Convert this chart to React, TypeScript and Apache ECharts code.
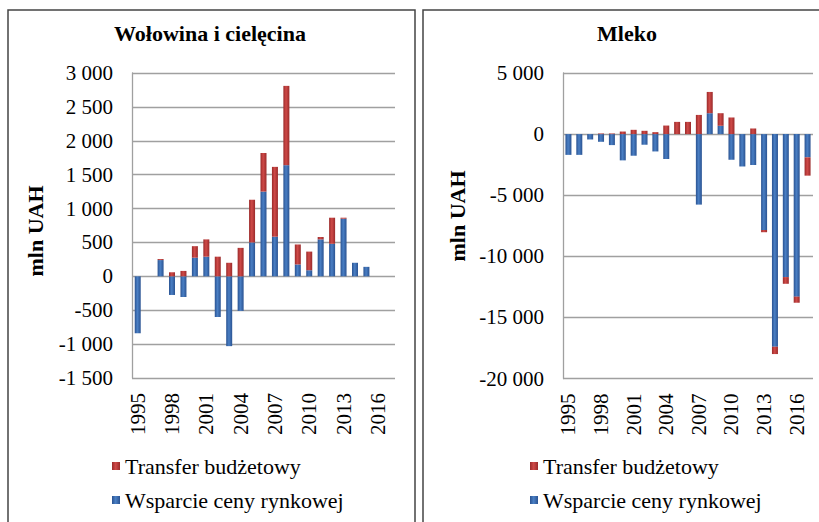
import React, { useEffect, useRef } from "react";
import * as echarts from "echarts";

const years = ["1995","1996","1997","1998","1999","2000","2001","2002","2003","2004","2005","2006","2007","2008","2009","2010","2011","2012","2013","2014","2015","2016","2017"];

const beefMarket = [-840, null, 240, -275, -305, 275, 290, -600, -1030, -510, 500, 1250, 585, 1640, 175, 90, 545, 480, 850, 200, 140, null, null];
const beefBudget = [0, null, 15, 60, 80, 170, 255, 290, 200, 420, 630, 570, 1030, 1170, 295, 275, 35, 385, 15, 0, 0, null, null];

const milkMarket = [-1700, -1700, -440, -630, -900, -2150, -1770, -870, -1420, -2040, 0, 0, -5770, 1710, 680, -2100, -2650, -2530, -7850, -17400, -11700, -13300, -1900];
const milkBudget = [0, 0, 0, 50, 50, 210, 350, 270, 160, 700, 1000, 1000, 1570, 1740, 1030, 1360, 0, 460, -180, -600, -550, -500, -1500];

const legendNames = ["Transfer budżetowy", "Wsparcie ceny rynkowej"];
const titles = ["Wołowina i cielęcina", "Mleko"];
const axisTitle = "mln UAH";

const FONT = "Times New Roman, Liberation Serif, DejaVu Serif, serif";

const blue = new echarts.graphic.LinearGradient(0, 0, 1, 0, [
  { offset: 0, color: "#2a5392" },
  { offset: 0.45, color: "#4a7fc4" },
  { offset: 1, color: "#2a5392" },
]);
const red = new echarts.graphic.LinearGradient(0, 0, 1, 0, [
  { offset: 0, color: "#9a2a2a" },
  { offset: 0.45, color: "#cf4a48" },
  { offset: 1, color: "#9a2a2a" },
]);

const fmt = (v: number) => {
  const s = Math.abs(v).toString().replace(/\B(?=(\d{3})+(?!\d))/g, " ");
  return (v < 0 ? "-" : "") + s;
};

export default function App() {
  const ref = useRef<HTMLDivElement>(null);
  useEffect(() => {
    if (!ref.current) return;
    const chart = echarts.init(ref.current, undefined, { renderer: "svg" });
    const gridLine = { show: true, lineStyle: { color: "#a0a0a0", width: 1.3 } };
    const yAxisBase = (gi: number, min: number, max: number, interval: number) => ({
      type: "value",
      gridIndex: gi,
      min,
      max,
      interval,
      axisLine: { show: true, lineStyle: { color: "#a0a0a0", width: 1.3 } },
      axisTick: { show: false },
      splitLine: gridLine,
      axisLabel: { formatter: fmt, margin: 19, fontSize: 21, color: "#000", fontFamily: FONT },
    });
    const xAxisBase = (gi: number) => ({
      type: "category",
      gridIndex: gi,
      data: years,
      axisLine: { show: false },
      axisTick: { show: false },
      axisLabel: { rotate: 90, interval: 2, margin: 15, fontSize: 21, color: "#000", fontFamily: FONT },
    });
    const barBase = { type: "bar", barWidth: 6 };
    const legendBase = (left: number) => ({
      orient: "vertical",
      left,
      top: 454,
      padding: 0,
      itemWidth: 8,
      itemHeight: 8,
      itemGap: 10,
      icon: "rect",
      selectedMode: false,
      data: legendNames,
      textStyle: { fontSize: 22, color: "#000", fontFamily: FONT, lineHeight: 24 },
    });
    const txt = (text: string, x: number, y: number, size: number, rot = 0) => ({
      type: "text",
      x,
      y,
      rotation: rot,
      style: {
        text,
        align: "center",
        verticalAlign: "middle",
        fontSize: size,
        fontWeight: "bold",
        fontFamily: FONT,
        fill: "#000",
      },
    });
    chart.setOption({
      animation: false,
      backgroundColor: "#fff",
      grid: [
        { left: 132, top: 73, width: 263, height: 305 },
        { left: 563, top: 73, width: 250, height: 305.5 },
      ],
      xAxis: [xAxisBase(0), xAxisBase(1)],
      yAxis: [yAxisBase(0, -1500, 3000, 500), yAxisBase(1, -20000, 5000, 5000)],
      legend: [legendBase(112), legendBase(530)],
      series: [
        { ...barBase, name: legendNames[1], xAxisIndex: 0, yAxisIndex: 0, stack: "a", data: beefMarket, itemStyle: { color: blue } },
        { ...barBase, name: legendNames[0], xAxisIndex: 0, yAxisIndex: 0, stack: "a", data: beefBudget, itemStyle: { color: red } },
        { ...barBase, name: legendNames[1], xAxisIndex: 1, yAxisIndex: 1, stack: "b", data: milkMarket, itemStyle: { color: blue } },
        { ...barBase, name: legendNames[0], xAxisIndex: 1, yAxisIndex: 1, stack: "b", data: milkBudget, itemStyle: { color: red } },
      ],
      graphic: [
        { type: "rect", shape: { x: 8, y: 10, width: 407, height: 600 }, style: { fill: "none", stroke: "#444", lineWidth: 1.5 } },
        { type: "rect", shape: { x: 423, y: 10, width: 500, height: 600 }, style: { fill: "none", stroke: "#444", lineWidth: 1.5 } },
        txt(titles[0], 210, 33, 22),
        txt(titles[1], 627, 33, 22),
        txt(axisTitle, 35, 231, 22, Math.PI / 2),
        txt(axisTitle, 457, 216, 22, Math.PI / 2),
      ],
    });
    return () => chart.dispose();
  }, []);
  return <div ref={ref} style={{ position: "absolute", left: 0, top: 0, width: 819, height: 522 }} />;
}
